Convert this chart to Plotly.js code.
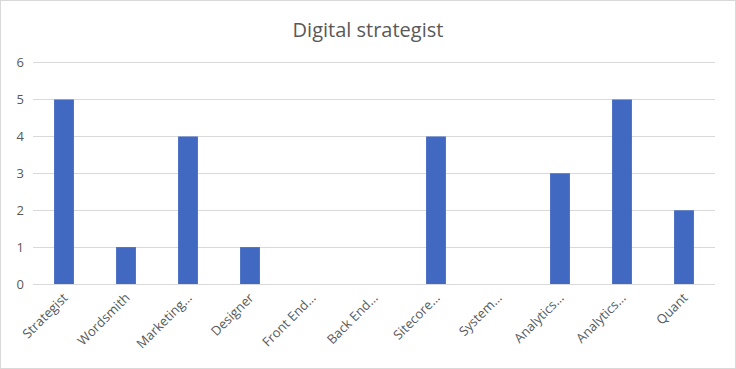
<!DOCTYPE html>
<html><head><meta charset="utf-8">
<script src="https://cdn.plot.ly/plotly-3.0.1.min.js"></script>
<style>
html,body{margin:0;padding:0;background:#fff;}
#wrap{position:relative;width:736px;height:369px;}
#chart{width:736px;height:369px;}
#frame{position:absolute;left:0;top:0;width:734px;height:367px;border:1px solid #d9d9d9;pointer-events:none;}
</style></head><body>
<div id="wrap"><div id="chart"></div><div id="frame"></div></div>
<script>
const categories = ["Strategist","Wordsmith","Marketing…","Designer","Front End…","Back End…","Sitecore…","System…","Analytics…","Analytics…","Quant"];
const values = [5,1,4,1,0,0,4,0,3,5,2];
const positions = categories.map((c,i)=>i);
const yTicks = [0,1,2,3,4,5,6];

Plotly.newPlot('chart',[{
  type:'bar', x:positions, y:values,
  marker:{color:'#4169C1'}, width:0.32, hoverinfo:'y'
}],{
  width:736, height:369,
  margin:{l:33,r:21,t:59,b:85},
  paper_bgcolor:'#fff', plot_bgcolor:'#fff',
  font:{family:'"Open Sans", sans-serif', color:'#595959'},
  title:{text:'Digital strategist', font:{size:20, color:'#595959'}, x:0.5, xanchor:'center', y:0.92, yanchor:'middle'},
  xaxis:{tickmode:'array', tickvals:positions, ticktext:categories, tickangle:-45,
    range:[-0.5,10.5], showgrid:false, zeroline:false, showline:true, linecolor:'#d9d9d9', linewidth:1,
    ticks:'', tickfont:{size:13,color:'#595959'}},
  yaxis:{range:[0,6.1], tickvals:yTicks, showgrid:true, gridcolor:'#d9d9d9', gridwidth:1,
    zeroline:false, showline:false, ticks:'', tickfont:{size:13,color:'#595959'}, ticklabelstandoff:8},
  showlegend:false
},{displayModeBar:false, staticPlot:true});
</script></body></html>
